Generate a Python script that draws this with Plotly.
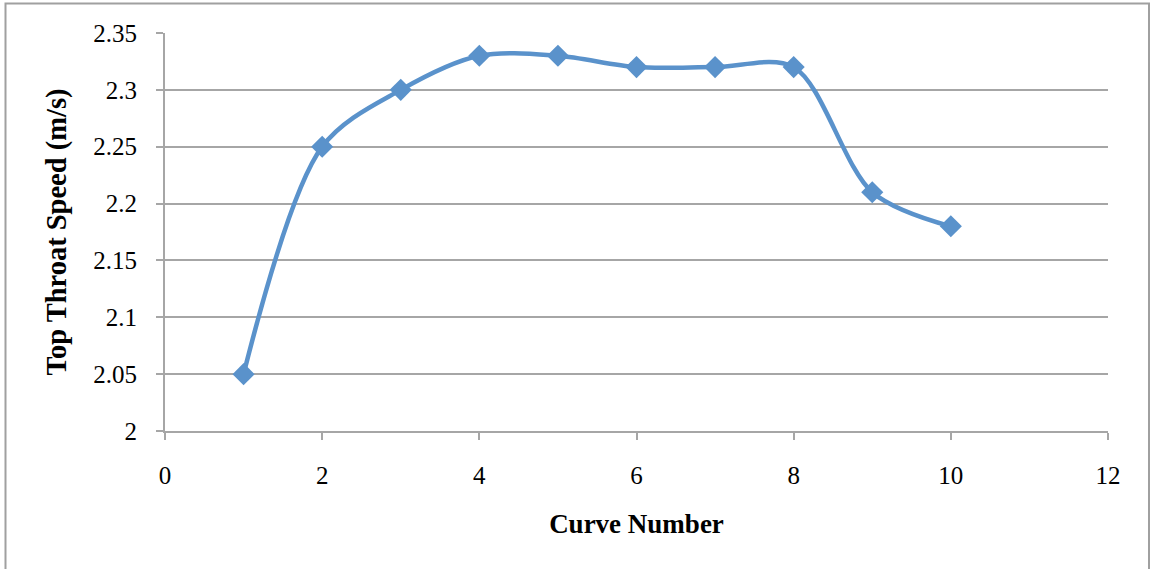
import plotly.graph_objects as go

# Data
curve_number = [1, 2, 3, 4, 5, 6, 7, 8, 9, 10]
top_throat_speed = [2.05, 2.25, 2.30, 2.33, 2.33, 2.32, 2.32, 2.32, 2.21, 2.18]
x_ticks = [0, 2, 4, 6, 8, 10, 12]
y_ticks = [2.0, 2.05, 2.1, 2.15, 2.2, 2.25, 2.3, 2.35]
y_tick_labels = ["2", "2.05", "2.1", "2.15", "2.2", "2.25", "2.3", "2.35"]

W, H = 1151, 569
ML, MR, MT, MB = 165, 43, 33, 138
PW, PH = W - ML - MR, H - MT - MB

FONT = "Liberation Serif"
LINE_BLUE = "#5A92CB"
GRID = "#A6A6A6"

fig = go.Figure()
fig.add_trace(go.Scatter(
    x=curve_number,
    y=top_throat_speed,
    mode="lines+markers",
    line=dict(color=LINE_BLUE, width=4.5, shape="spline", smoothing=0.9),
    marker=dict(symbol="diamond", size=17, color=LINE_BLUE),
    showlegend=False,
))

# outer chart frame
def px_to_paper_x(px):
    return (px - ML) / PW

def px_to_paper_y(py):
    return (H - MB - py) / PH

fig.add_shape(
    type="rect", xref="paper", yref="paper",
    x0=px_to_paper_x(5.5), x1=px_to_paper_x(1149),
    y0=px_to_paper_y(600), y1=px_to_paper_y(3.5),
    line=dict(color="#A0A0A0", width=2), fillcolor="rgba(0,0,0,0)",
    layer="below",
)

fig.update_layout(
    width=W, height=H,
    margin=dict(l=ML, r=MR, t=MT, b=MB, pad=0),
    paper_bgcolor="white", plot_bgcolor="white",
    font=dict(family=FONT, size=25, color="black"),
    xaxis=dict(
        range=[0, 12], tickvals=x_ticks, showgrid=False, zeroline=False,
        showline=True, linecolor=GRID, linewidth=2,
        ticks="outside", ticklen=7, tickcolor=GRID, tickwidth=2,
        ticklabelstandoff=14,
        tickfont=dict(family=FONT, size=25),
        title=dict(text="<b>Curve Number</b>", font=dict(family=FONT, size=27), standoff=26),
    ),
    yaxis=dict(
        range=[2, 2.35], tickvals=y_ticks, ticktext=y_tick_labels,
        showgrid=True, gridcolor=GRID, gridwidth=1.5, zeroline=False,
        showline=True, linecolor=GRID, linewidth=2,
        ticks="outside", ticklen=7, tickcolor=GRID, tickwidth=2,
        ticklabelstandoff=14,
        tickfont=dict(family=FONT, size=25),
        title=dict(text="<b>Top Throat Speed (m/s)</b>", font=dict(family=FONT, size=28.5), standoff=18),
    ),
)

fig.write_html("out.html")
